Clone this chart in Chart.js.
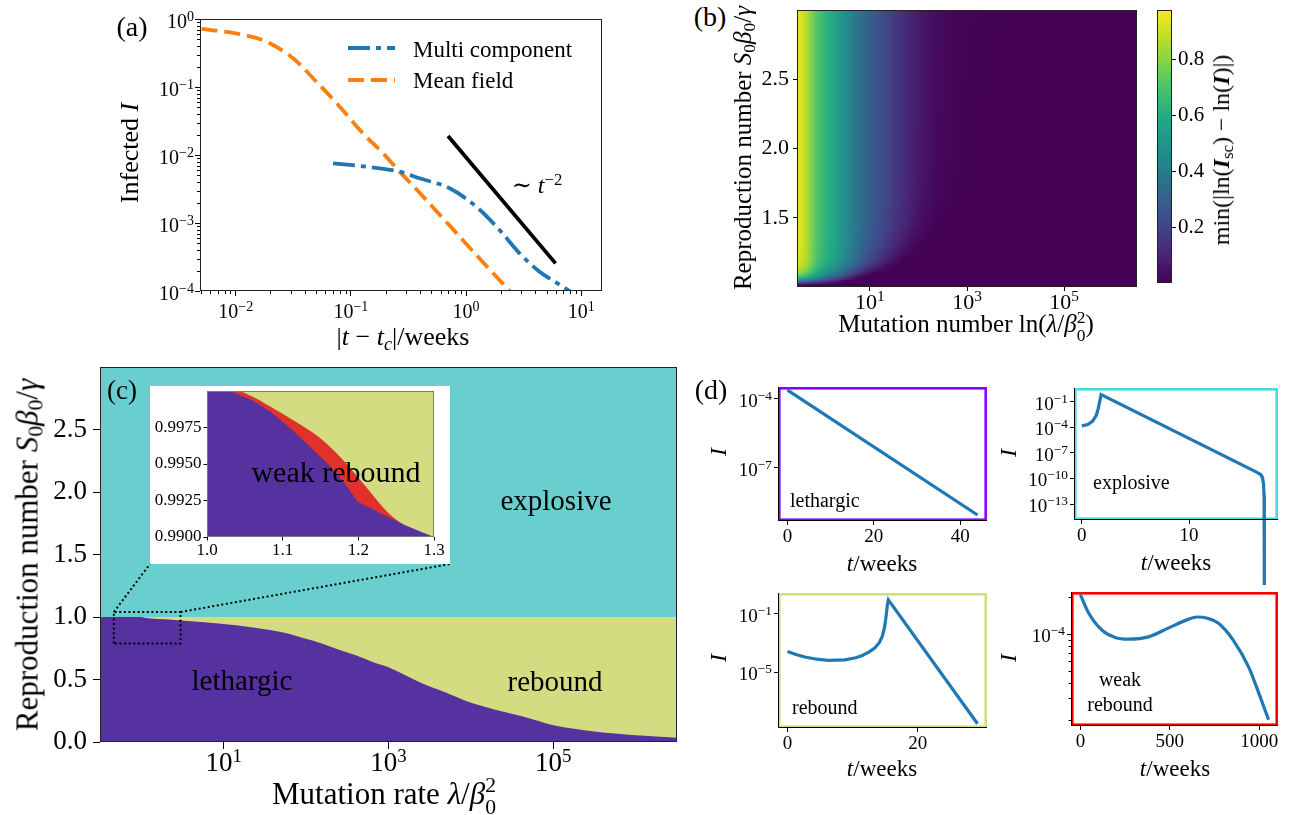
<!DOCTYPE html>
<html>
<head>
<meta charset="utf-8">
<title>Rebound phases</title>
<script src="https://cdn.jsdelivr.net/npm/chart.js@4.4.1/dist/chart.umd.min.js"></script>
<style>
  html, body { margin: 0; padding: 0; background: #fff; }
  #fig { position: relative; width: 1292px; height: 815px; overflow: hidden;
         font-family: 'Liberation Serif', 'DejaVu Serif', serif; color: #000; }
  #fig canvas { position: absolute; }
  .lb { position: absolute; white-space: nowrap; line-height: 1; }
  .lb sub { font-size: 0.7em; vertical-align: -0.25em; line-height: 0; }
  .lb sup { font-size: 0.7em; vertical-align: 0.5em; line-height: 0; }
  .ss { display: inline-flex; flex-direction: column; font-size: 0.7em; line-height: 1; vertical-align: 0.55em; }
</style>
</head>
<body>
<div id="fig"></div>
<script>
// ── (a) infected fraction close to t_c ──
const aTicksX = [0.01, 0.1, 1, 10];
const aTicksY = [1e-4, 1e-3, 1e-2, 1e-1, 1];
const tMulti = [0.07, 0.136, 0.265, 0.395, 0.72, 1.225, 1.953, 2.915, 4.35, 6.07, 7.91];
const iMulti = [0.00754, 0.00673, 0.00569, 0.00454, 0.00324, 0.00174, 0.000789, 0.000358, 0.000192, 0.000133, 0.0001];
const tMean = [0.00504, 0.01, 0.01845, 0.0315, 0.0501, 0.08, 0.1274, 0.19, 0.265, 0.395, 0.515, 0.72, 1.005, 1.6, 2.39];
const iMean = [0.713, 0.615, 0.465, 0.264, 0.12, 0.0514, 0.0208, 0.0106, 0.00569, 0.00279, 0.0017, 0.000914, 0.000491, 0.000208, 0.0001];
const tPower = [0.697, 5.98];
const iPower = [0.019, 0.000255];

// ── (b) heat map ──
const bTicksX = [10, 1e3, 1e5];
const bTicksY = [1.5, 2.0, 2.5];
const cbTicks = [0.2, 0.4, 0.6, 0.8];
const cbMin = 0.002, cbMax = 0.977;
const heatLambda = [0.3, 0.5, 0.79, 1.26, 2.0, 3.16, 5.0, 7.9, 12.6, 20, 31.6, 50, 79, 126, 251, 631, 3160, 4e6];
const heatR = [1.0, 1.02, 1.04, 1.07, 1.1, 1.15, 1.2, 1.3, 1.45, 1.7, 3.0];
const heatVal = [
  [0, 0, 0, 0, 0, 0, 0, 0, 0, 0, 0, 0, 0, 0, 0, 0, 0, 0],
  [0.07, 0.04, 0, 0, 0, 0, 0, 0, 0, 0, 0, 0, 0, 0, 0, 0, 0, 0],
  [0.42, 0.35, 0.26, 0.16, 0.08, 0, 0, 0, 0, 0, 0, 0, 0, 0, 0, 0, 0, 0],
  [0.71, 0.61, 0.48, 0.37, 0.28, 0.16, 0.05, 0, 0, 0, 0, 0, 0, 0, 0, 0, 0, 0],
  [0.84, 0.74, 0.59, 0.49, 0.40, 0.285, 0.17, 0.07, 0, 0, 0, 0, 0, 0, 0, 0, 0, 0],
  [0.93, 0.83, 0.675, 0.57, 0.50, 0.39, 0.29, 0.19, 0.11, 0.04, 0, 0, 0, 0, 0, 0, 0, 0],
  [0.955, 0.854, 0.70, 0.606, 0.54, 0.44, 0.34, 0.25, 0.18, 0.11, 0.048, 0, 0, 0, 0, 0, 0, 0],
  [0.965, 0.865, 0.713, 0.622, 0.56, 0.468, 0.38, 0.30, 0.236, 0.176, 0.117, 0.066, 0.024, 0, 0, 0, 0, 0],
  [0.965, 0.865, 0.715, 0.625, 0.565, 0.475, 0.393, 0.322, 0.26, 0.206, 0.155, 0.108, 0.064, 0.032, 0.006, 0, 0, 0],
  [0.965, 0.865, 0.715, 0.625, 0.565, 0.475, 0.395, 0.325, 0.265, 0.215, 0.168, 0.126, 0.085, 0.052, 0.023, 0.006, 0.001, 0],
  [0.965, 0.865, 0.715, 0.625, 0.565, 0.475, 0.395, 0.325, 0.265, 0.215, 0.17, 0.13, 0.09, 0.06, 0.033, 0.013, 0.004, 0]
];

// ── (c) phase diagram ──
const cTicksX = [10, 1e3, 1e5];
const cTicksY = [0, 0.5, 1.0, 1.5, 2.0, 2.5];
const lamEdge = [0.3162, 1.0, 1.094, 2.31, 5.87, 15.0, 38.0, 60.3, 96.6, 155, 245, 393, 631, 1000, 1585, 2541, 4074, 6457, 10230, 16600, 26300, 41690, 1e5, 3.16e5, 1e6, 3.162e6];
const rEdge = [1.0, 1.0, 0.995, 0.979, 0.958, 0.932, 0.894, 0.868, 0.828, 0.789, 0.741, 0.696, 0.643, 0.598, 0.537, 0.471, 0.418, 0.365, 0.312, 0.273, 0.238, 0.206, 0.135, 0.085, 0.055, 0.035];
const lamSpan = [0.3162, 3.162e6];
const rCritical = [1, 1];
const zoomLam = [0.465, 3.0];
const zoomR = [0.789, 1.04];
const insTicksX = [1.0, 1.1, 1.2, 1.3];
const insTicksY = [0.99, 0.9925, 0.995, 0.9975];
const lamLow = [1.0, 1.031, 1.06, 1.0835, 1.110, 1.136, 1.163, 1.180, 1.1987, 1.2286, 1.2594, 1.30];
const rLow = [1.0, 1.0, 0.99935, 0.99859, 0.99745, 0.99620, 0.99483, 0.99381, 0.99244, 0.99165, 0.99085, 0.98999];
const lamUp = [1.0, 1.039, 1.06, 1.0835, 1.114, 1.149, 1.171, 1.193, 1.215, 1.2375, 1.2594, 1.30];
const rUp = [1.0, 1.0, 0.99962, 0.99893, 0.99800, 0.99680, 0.99575, 0.99449, 0.99313, 0.99176, 0.99085, 0.98999];

// ── (d) example trajectories ──
const tLeth = [0, 44];
const iLeth = [2.3e-4, 8.9e-10];
const tExpl = [0, 0.56, 1.01, 1.35, 1.53, 1.69, 1.8, 16.3, 16.7, 16.85, 16.95, 17.0, 17.02, 17.03];
const iExpl = [1.55e-4, 2.2e-4, 5.5e-4, 2.75e-3, 1.66e-2, 0.158, 0.74, 5.6e-10, 2.8e-10, 1.26e-10, 2.5e-11, 1e-12, 1e-15, 3e-23];
const tReb = [0, 1.3, 2.67, 4.5, 6.26, 8.8, 10.5, 11.4, 12.5, 13.4, 14.1, 14.56, 14.9, 15.08, 15.25, 15.38, 15.5, 29.2];
const iReb = [2.69e-4, 1.66e-4, 1.12e-4, 7.9e-5, 6.6e-5, 7.2e-5, 1e-4, 1.38e-4, 2.4e-4, 4.57e-4, 1.05e-3, 2.8e-3, 1.12e-2, 3.9e-2, 0.158, 0.5, 0.89, 3.16e-9];
const tWeak = [0, 46, 120, 194, 268, 380, 491, 602, 652, 710, 770, 855, 940, 1004, 1052];
const iWeak = [2.1e-4, 1.49e-4, 1.08e-4, 9.4e-5, 9.1e-5, 9.5e-5, 1.12e-4, 1.32e-4, 1.38e-4, 1.35e-4, 1.23e-4, 8.9e-5, 5.4e-5, 3.1e-5, 2.0e-5];
const dTicksLeth = [0, 20, 40], dTicksExpl = [0, 10], dTicksReb = [0, 20], dTicksWeak = [0, 500, 1000];
const yTicksLeth = [1e-7, 1e-4];
const yTicksExpl = [1e-13, 1e-10, 1e-7, 1e-4, 1e-1];
const yTicksReb = [1e-5, 1e-1];
const yTicksWeak = [1e-4];
const yMinorWeak = [2e-5, 3e-5, 4e-5, 5e-5, 6e-5, 7e-5, 8e-5, 9e-5, 2e-4];

// ── estilos ──
const BLUE = '#1f77b4', ORANGE = '#ff7f0e';
const PURPLE = '#5632a0', CYAN = '#69cfce', YELLOW = '#d4dc81', RED = '#e0312a';
const VIRIDIS = [[68,1,84],[72,36,117],[65,68,135],[53,95,141],[42,120,142],[33,145,140],[34,168,132],[68,191,112],[122,209,81],[189,223,38],[253,231,37]];

Chart.defaults.font.family = "'Liberation Serif', 'DejaVu Serif', serif";
Chart.defaults.color = '#000';

const fig = document.getElementById('fig');
const blank = () => '';
const powHtml = v => { const e = Math.round(Math.log10(v)); return '10<sup>' + (e < 0 ? '−' + (-e) : e) + '</sup>'; };
const pts = (xs, ys) => xs.map((x, i) => ({x, y: ys[i]}));

function minorLog(e0, e1) {
  const out = [];
  for (let e = e0; e <= e1; e++) for (let m = 2; m <= 9; m++) out.push(m * Math.pow(10, e));
  return out;
}

function viridis(t) {
  t = Math.max(0, Math.min(1, t)) * (VIRIDIS.length - 1);
  const i = Math.min(Math.floor(t), VIRIDIS.length - 2), f = t - i;
  const c = VIRIDIS[i].map((v, k) => Math.round(v + (VIRIDIS[i + 1][k] - v) * f));
  return `rgb(${c[0]},${c[1]},${c[2]})`;
}

function locate(xs, x) {
  if (x <= xs[0]) return [0, 0];
  for (let i = 0; i < xs.length - 1; i++) if (x <= xs[i + 1]) return [i, (x - xs[i]) / (xs[i + 1] - xs[i])];
  return [xs.length - 2, 1];
}

function axis(o) {
  return {
    type: o.type || 'linear', position: o.position, min: o.min, max: o.max, bounds: 'data',
    afterBuildTicks: s => { s.ticks = o.ticks.filter(v => v >= o.min && v <= o.max).map(v => ({value: v})); },
    ticks: {callback: o.fmt || blank, font: {size: o.font || 12}, padding: o.pad || 0, maxRotation: 0, minRotation: 0, autoSkip: false, color: '#000'},
    grid: {drawOnChartArea: false, drawTicks: true, tickLength: o.len || 5, color: '#000', lineWidth: 1},
    border: {display: false}
  };
}

// canvas placed so that the chart area lands exactly on box
function panel(box, pad, cfg) {
  const cv = document.createElement('canvas');
  const w = box.r - box.l + pad.l + pad.r, h = box.b - box.t + pad.t + pad.b;
  cv.width = w; cv.height = h;
  Object.assign(cv.style, {left: (box.l - pad.l) + 'px', top: (box.t - pad.t) + 'px', width: w + 'px', height: h + 'px'});
  fig.appendChild(cv);
  const sc = cfg.options.scales;
  const yRight = sc.y.position === 'right', xHidden = sc.x.display === false;
  sc.x.afterFit = s => { s.height = pad.b; s.paddingLeft = 0; s.paddingRight = 0; };
  sc.y.afterFit = s => { s.width = yRight ? pad.r : pad.l; s.paddingTop = 0; s.paddingBottom = 0; };
  Object.assign(cfg.options, {
    responsive: false, animation: false, events: [],
    layout: {autoPadding: false, padding: {left: yRight ? pad.l : 0, right: yRight ? 0 : pad.r, top: pad.t, bottom: xHidden ? pad.b : 0}},
    plugins: {legend: {display: false}, tooltip: {enabled: false}}
  });
  const ch = new Chart(cv, cfg);
  ch.$off = {x: box.l - pad.l, y: box.t - pad.t};
  return ch;
}

function decor(o) {
  return {
    id: 'decor',
    beforeDraw(ch) {
      if (!o.paper) return;
      ch.ctx.save(); ch.ctx.fillStyle = o.paper; ch.ctx.fillRect(0, 0, ch.width, ch.height); ch.ctx.restore();
    },
    beforeDatasetsDraw(ch) {
      const a = ch.chartArea, ctx = ch.ctx;
      ctx.save();
      if (o.bg) { ctx.fillStyle = o.bg; ctx.fillRect(a.left, a.top, a.right - a.left, a.bottom - a.top); }
      if (o.paint) o.paint(ch);
      if (o.box) {
        const h = o.boxWidth / 2;
        ctx.strokeStyle = o.box; ctx.lineWidth = o.boxWidth;
        ctx.strokeRect(a.left + h, a.top + h, a.right - a.left - 2 * h, a.bottom - a.top - 2 * h);
      }
      ctx.restore();
    },
    afterDatasetsDraw(ch) {
      const a = ch.chartArea, ctx = ch.ctx, len = o.minorLen || 3;
      ctx.save();
      ctx.strokeStyle = '#000'; ctx.lineWidth = 1;
      ctx.beginPath();
      (o.minorX || []).forEach(v => {
        const x = Math.round(ch.scales.x.getPixelForValue(v)) + 0.5;
        if (x > a.left && x < a.right) { ctx.moveTo(x, a.bottom); ctx.lineTo(x, a.bottom + len); }
      });
      (o.minorY || []).forEach(v => {
        const y = Math.round(ch.scales.y.getPixelForValue(v)) + 0.5;
        if (y > a.top && y < a.bottom) { ctx.moveTo(a.left - len, y); ctx.lineTo(a.left, y); }
      });
      ctx.stroke();
      if (o.frame) { ctx.strokeStyle = o.frame; ctx.strokeRect(a.left + 0.5, a.top + 0.5, a.right - a.left - 1, a.bottom - a.top - 1); }
      if (o.spines) {
        ctx.beginPath(); ctx.moveTo(a.left + 0.5, a.top); ctx.lineTo(a.left + 0.5, a.bottom - 0.5); ctx.lineTo(a.right, a.bottom - 0.5); ctx.stroke();
      }
      if (o.extra) o.extra(ch);
      ctx.restore();
    }
  };
}

const ANCHORS = {left: 'translate(0,-50%)', right: 'translate(-100%,-50%)', top: 'translate(-50%,0)'};
function label(html, x, y, size, rot, css) {
  const d = document.createElement('div');
  d.className = 'lb';
  d.innerHTML = html;
  d.style.left = x + 'px'; d.style.top = y + 'px'; d.style.fontSize = size + 'px';
  d.style.transform = (ANCHORS[css && css.anchor] || 'translate(-50%,-50%)') + (rot ? ` rotate(${rot}deg)` : '');
  if (css && css.style) Object.assign(d.style, css.style);
  fig.appendChild(d);
}
const ss = (a, b) => `<span class="ss"><span>${a}</span><span>${b}</span></span>`;

// power-of-ten tick labels as text, placed from the chart's own scale
function powerTicks(ch, which, values, size, gap, dy) {
  const s = ch.scales[which], a = ch.chartArea, o = ch.$off;
  values.filter(v => v >= s.min * 0.9999 && v <= s.max * 1.0001).forEach(v => {
    const p = s.getPixelForValue(v);
    if (which === 'x') label(powHtml(v), o.x + p, o.y + a.bottom + gap, size, 0, {anchor: 'top'});
    else label(powHtml(v), o.x + a.left - gap, o.y + p + (dy || 0), size, 0, {anchor: 'right'});
  });
}

// ── (a) ──
const A = {l: 200, t: 19, r: 602, b: 291};
const chA = panel(A, {l: 80, t: 8, r: 12, b: 36}, {
  type: 'line',
  data: {datasets: [
    {data: pts(tMulti, iMulti), borderColor: BLUE, borderWidth: 3.8, borderDash: [22, 6, 5, 6], pointRadius: 0, cubicInterpolationMode: 'monotone', fill: false},
    {data: pts(tMean, iMean), borderColor: ORANGE, borderWidth: 3.8, borderDash: [16, 7], pointRadius: 0, cubicInterpolationMode: 'monotone', fill: false},
    {data: pts(tPower, iPower), borderColor: '#000', borderWidth: 3.8, pointRadius: 0, fill: false}
  ]},
  options: {scales: {
    x: axis({type: 'logarithmic', min: Math.pow(10, -2.31), max: Math.pow(10, 1.18), ticks: aTicksX, len: 5}),
    y: axis({type: 'logarithmic', min: 1e-4, max: 1, ticks: aTicksY, len: 5})
  }},
  plugins: [decor({frame: '#222', minorX: minorLog(-3, 1), minorY: minorLog(-4, -1), minorLen: 3,
    extra: ch => {
      const ctx = ch.ctx, a = ch.chartArea;
      [[0, 48], [1, 80]].forEach(([k, py]) => {
        const ds = ch.data.datasets[k];
        ctx.save();
        ctx.strokeStyle = ds.borderColor; ctx.lineWidth = ds.borderWidth; ctx.setLineDash(ds.borderDash);
        ctx.beginPath();
        ctx.moveTo(a.left + 148, a.top + py - A.t); ctx.lineTo(a.left + 195, a.top + py - A.t);
        ctx.stroke();
        ctx.restore();
      });
    }})]
});
powerTicks(chA, 'x', aTicksX, 20, 10);
powerTicks(chA, 'y', aTicksY, 20, 6, 2);

// ── (b) ──
const B = {l: 797, t: 10, r: 1137, b: 287};
const chB = panel(B, {l: 50, t: 6, r: 8, b: 30}, {
  type: 'scatter',
  data: {datasets: []},
  options: {scales: {
    x: axis({type: 'logarithmic', min: Math.pow(10, -0.5), max: Math.pow(10, 6.5), ticks: bTicksX, len: 4}),
    y: axis({min: 1.0, max: 3.0, ticks: bTicksY, fmt: v => v.toFixed(1), font: 22, pad: 4, len: 4})
  }},
  plugins: [decor({frame: '#222', paint: ch => {
    const a = ch.chartArea, xs = ch.scales.x, ys = ch.scales.y, ctx = ch.ctx;
    const lx = heatLambda.map(Math.log10), step = 2;
    for (let px = a.left; px < a.right; px += step) {
      const [i, fx] = locate(lx, Math.log10(xs.getValueForPixel(px + step / 2)));
      for (let py = a.top; py < a.bottom; py += step) {
        const [j, fy] = locate(heatR, ys.getValueForPixel(py + step / 2));
        const lo = heatVal[j][i] * (1 - fx) + heatVal[j][i + 1] * fx;
        const hi = heatVal[j + 1][i] * (1 - fx) + heatVal[j + 1][i + 1] * fx;
        ctx.fillStyle = viridis((lo * (1 - fy) + hi * fy - cbMin) / (cbMax - cbMin));
        ctx.fillRect(px, py, Math.min(step, a.right - px), Math.min(step, a.bottom - py));
      }
    }
  }})]
});
powerTicks(chB, 'x', bTicksX, 22, 4);

// colorbar
panel({l: 1157, t: 10, r: 1172, b: 287}, {l: 2, t: 6, r: 40, b: 4}, {
  type: 'scatter',
  data: {datasets: []},
  options: {scales: {
    x: {type: 'linear', display: false, min: 0, max: 1},
    y: axis({position: 'right', min: cbMin, max: cbMax, ticks: cbTicks, fmt: v => v.toFixed(1), font: 21, pad: 2, len: 4})
  }},
  plugins: [decor({frame: '#222', paint: ch => {
    const a = ch.chartArea, ctx = ch.ctx;
    for (let py = a.top; py < a.bottom; py++) {
      ctx.fillStyle = viridis((ch.scales.y.getValueForPixel(py + 0.5) - cbMin) / (cbMax - cbMin));
      ctx.fillRect(a.left, py, a.right - a.left, 1);
    }
  }})]
});

// ── (c) ──
const C = {l: 100, t: 367, r: 677, b: 742};
const padC = {l: 60, t: 6, r: 8, b: 45};
const INSET_BOX = {l: 150, t: 386, r: 450, b: 564};
const chC = panel(C, padC, {
  type: 'line',
  data: {datasets: [
    {data: pts([zoomLam[0], zoomLam[0], zoomLam[1], zoomLam[1], zoomLam[0]], [zoomR[0], zoomR[1], zoomR[1], zoomR[0], zoomR[0]]),
     borderColor: '#000', borderWidth: 2, borderDash: [2, 2.6], pointRadius: 0, fill: false, tension: 0},
    {data: pts(lamEdge, rEdge), borderColor: 'rgba(0,0,0,0)', borderWidth: 0, pointRadius: 0, fill: 'start', backgroundColor: PURPLE, cubicInterpolationMode: 'monotone'},
    {data: pts(lamSpan, rCritical), borderColor: 'rgba(0,0,0,0)', borderWidth: 0, pointRadius: 0, fill: 'start', backgroundColor: YELLOW}
  ]},
  options: {scales: {
    x: axis({type: 'logarithmic', min: Math.pow(10, -0.5), max: Math.pow(10, 6.5), ticks: cTicksX, len: 7}),
    y: axis({min: 0, max: 3.0, ticks: cTicksY, fmt: v => v.toFixed(1), font: 27, pad: 6, len: 7})
  }},
  plugins: [decor({bg: CYAN, frame: '#222', extra: ch => {
    const ctx = ch.ctx, xs = ch.scales.x, ys = ch.scales.y;
    const ox = C.l - padC.l, oy = C.t - padC.t;
    ctx.strokeStyle = '#000'; ctx.lineWidth = 2; ctx.setLineDash([2, 2.6]);
    ctx.beginPath();
    ctx.moveTo(xs.getPixelForValue(zoomLam[0]), ys.getPixelForValue(zoomR[1]));
    ctx.lineTo(INSET_BOX.l - ox, INSET_BOX.b - oy);
    ctx.moveTo(xs.getPixelForValue(zoomLam[1]), ys.getPixelForValue(zoomR[1]));
    ctx.lineTo(INSET_BOX.r - ox, INSET_BOX.b - oy);
    ctx.stroke();
  }})]
});
powerTicks(chC, 'x', cTicksX, 27, 7);

// inset
panel({l: 207, t: 391, r: 434, b: 537}, {l: 57, t: 5, r: 16, b: 27}, {
  type: 'line',
  data: {datasets: [
    {data: pts(lamLow, rLow), borderColor: 'rgba(0,0,0,0)', borderWidth: 0, pointRadius: 0, fill: 'start', backgroundColor: PURPLE, tension: 0},
    {data: pts(lamUp, rUp), borderColor: 'rgba(0,0,0,0)', borderWidth: 0, pointRadius: 0, fill: 'start', backgroundColor: RED, cubicInterpolationMode: 'monotone'}
  ]},
  options: {scales: {
    x: axis({min: 1.0, max: 1.3, ticks: insTicksX, fmt: v => v.toFixed(1), font: 17, pad: 0, len: 3.5}),
    y: axis({min: 0.99, max: 1.0, ticks: insTicksY, fmt: v => v.toFixed(4), font: 17, pad: 2, len: 3.5})
  }},
  plugins: [decor({paper: '#fff', bg: YELLOW, frame: '#777'})]
});

// ── (d) ──
function trajectory(box, pad, color, ts, is, xr, yr, xt, yt, more) {
  more = more || {};
  const ch = panel(box, pad, {
    type: 'line',
    data: {datasets: [Object.assign({data: pts(ts, is), borderColor: BLUE, borderWidth: 3.2, pointRadius: 0, tension: 0, fill: false}, more.line)]},
    options: {scales: {
      x: axis({min: xr[0], max: xr[1], ticks: xt, fmt: v => String(v), font: 19, pad: 1, len: 4}),
      y: axis({type: 'logarithmic', min: yr[0], max: yr[1], ticks: yt, len: 4})
    }},
    plugins: [decor({box: color, boxWidth: 2.6, spines: true, minorY: more.minorY, minorLen: 2.5})]
  });
  powerTicks(ch, 'y', yt, 19, 6, 1);
  return ch;
}
trajectory({l: 778, t: 387, r: 987, b: 521}, {l: 70, t: 6, r: 4, b: 30}, '#8800ff', tLeth, iLeth,
  [-2.2, 46.2], [Math.pow(10, -9.31), Math.pow(10, -3.5)], dTicksLeth, yTicksLeth);
trajectory({l: 1074, t: 388, r: 1278, b: 520}, {l: 72, t: 6, r: 8, b: 70}, '#44dcdc', tExpl, iExpl,
  [-0.73, 18.3], [Math.pow(10, -14.88), Math.pow(10, 0.64)], dTicksExpl, yTicksExpl, {line: {clip: false}});
trajectory({l: 778, t: 593, r: 987, b: 728}, {l: 70, t: 6, r: 4, b: 30}, '#d4dc81', tReb, iReb,
  [-1.46, 30.66], [Math.pow(10, -8.79), Math.pow(10, 0.41)], dTicksReb, yTicksReb);
trajectory({l: 1071, t: 592, r: 1278, b: 726}, {l: 70, t: 4, r: 8, b: 30}, '#ff0000', tWeak, iWeak,
  [-52.6, 1104.6], [Math.pow(10, -4.75), Math.pow(10, -3.656)], dTicksWeak, yTicksWeak,
  {line: {cubicInterpolationMode: 'monotone'}, minorY: yMinorWeak});

// ── texts ──
label('(a)', 132, 27, 28);
label('Infected <i>I</i>', 130, 153, 26, -90);
label('|<i>t</i> − <i>t</i><sub><i>c</i></sub>|/weeks', 403, 337, 26);
label('Multi component', 413, 49, 23, 0, {anchor: 'left'});
label('Mean field', 413, 80, 23, 0, {anchor: 'left'});
label('∼ <i>t</i><sup>−2</sup>', 537, 185, 24);

label('(b)', 710, 17, 28);
label('Reproduction number <i>S</i><sub>0</sub><i>β</i><sub>0</sub>/<i>γ</i>', 742, 148, 25, -90);
label('Mutation number ln(<i>λ</i>/<i>β</i>' + ss('2', '0') + ')', 966, 326, 25);
label('min(|ln(<b><i>I</i></b><sub>sc</sub>) − ln(<b><i>I</i></b>)|)', 1221, 150, 24, -90);

label('(c)', 122, 390, 27);
label('Reproduction number <i>S</i><sub>0</sub><i>β</i><sub>0</sub>/<i>γ</i>', 27, 555, 31, -90);
label('Mutation rate <i>λ</i>/<i>β</i>' + ss('2', '0'), 384, 797, 31);
label('explosive', 556, 500, 29);
label('lethargic', 242, 680, 29);
label('rebound', 555, 681, 29);
label('weak rebound', 336, 472, 30);

label('(d)', 711, 390, 28);
[[718, 452], [1008, 453], [718, 658], [1008, 658]].forEach(([x, y]) => label('<i>I</i>', x, y, 24, -90));
[[882, 563], [1176, 562], [882, 768], [1175, 768]].forEach(([x, y]) => label('<i>t</i>/weeks', x, y, 23));
label('lethargic', 790, 500, 20, 0, {anchor: 'left'});
label('explosive', 1093, 482, 20, 0, {anchor: 'left'});
label('rebound', 792, 707, 20, 0, {anchor: 'left'});
label('weak<br>rebound', 1120, 692, 20, 0, {style: {textAlign: 'center', lineHeight: '1.25'}});
</script>
</body>
</html>
